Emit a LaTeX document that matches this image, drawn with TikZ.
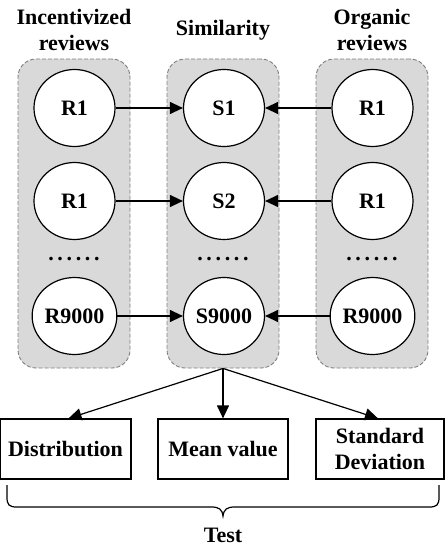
\documentclass[tikz,border=0pt]{standalone}
\usepackage{fontspec}
\setmainfont{Liberation Serif}
\usetikzlibrary{arrows.meta,shapes.geometric}
\definecolor{panelgray}{HTML}{D9D9D9}
\definecolor{dashgray}{HTML}{7F7F7F}
\begin{document}
\begin{tikzpicture}[x=1pt,y=-1pt,
  every node/.style={font=\fontsize{22}{26}\selectfont\bfseries, inner sep=0pt},
  panel/.style={draw=dashgray, fill=panelgray, dash pattern=on 4pt off 2pt, line width=0.9pt,
    rounded corners=18pt, minimum width=112pt, minimum height=309pt},
  ball/.style={ellipse, draw=black, fill=white, line width=1.2pt, minimum width=81pt, minimum height=77pt},
  resbox/.style={draw=black, fill=white, line width=1.2pt, minimum height=60pt, align=center},
  arr/.style={-{Triangle[length=13pt,width=12pt]}, line width=1.2pt},
  head/.style={align=center},
  dotsnode/.style={}
]
\useasboundingbox (0,0) rectangle (445,548);
% headers
\node[head] (hL) at (74,30) {Incentivized\\reviews};
\node[head] (hM) at (223,30) {Similarity};
\node[head] (hR) at (372,30) {Organic\\reviews};
% panels
\node[panel] (pL) at (74,213.5) {};
\node[panel] (pM) at (223,213.5) {};
\node[panel] (pR) at (372,213.5) {};
% circles
\node[ball] (l1) at (74.5,108) {R1};
\node[ball] (l2) at (74.5,201) {R1};
\node[ball] (l3) at (74.5,316) {R9000};
\node[ball] (m1) at (224,108) {S1};
\node[ball] (m2) at (224,201) {S2};
\node[ball] (m3) at (224,316) {S9000};
\node[ball] (r1) at (372.5,108) {R1};
\node[ball] (r2) at (372.5,201) {R1};
\node[ball] (r3) at (372.5,316) {R9000};
% dots
\node[dotsnode] (dL) at (74,259) {.\,.\,.\,.\,.\,.};
\node[dotsnode] (dM) at (223,259) {.\,.\,.\,.\,.\,.};
\node[dotsnode] (dR) at (372,259) {.\,.\,.\,.\,.\,.};
% arrows
\foreach \i in {1,2,3}{
  \draw[arr] (l\i) -- (m\i);
  \draw[arr] (r\i) -- (m\i);
}
% result boxes
\node[resbox, minimum width=131pt] (dist) at (65.5,449) {Distribution};
\node[resbox, minimum width=130pt] (mean) at (223,449) {Mean value};
\node[resbox, minimum width=128pt] (sd) at (380,449) {Standard\\Deviation};
\draw[arr] (pM.south) -- ([xshift=3pt]dist.north);
\draw[arr] (pM.south) -- (mean.north);
\draw[arr] (pM.south) -- ([xshift=-2pt]sd.north);
% brace
\coordinate (bL) at (7,485);
\coordinate (bR) at (439,485);
\coordinate (bT) at (223,516);
\draw[line width=1.2pt] (bL) -- (7,497) .. controls (7,505) and (9,507) .. (17,507)
  -- (211,507) .. controls (219,507) and (222,509) .. (bT)
  .. controls (224,509) and (227,507) .. (235,507) -- (429,507)
  .. controls (437,507) and (439,505) .. (439,497) -- (bR);
\node (test) at (223,535) {Test};
\end{tikzpicture}
\end{document}
